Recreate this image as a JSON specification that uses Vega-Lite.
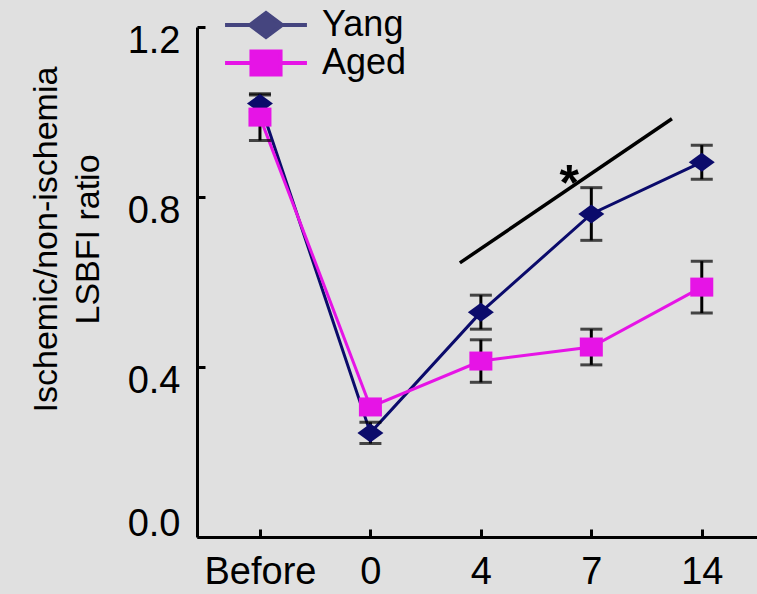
{
  "$schema": "https://vega.github.io/schema/vega-lite/v6.json",
  "autosize": {"type": "none"},
  "padding": {"left": 197, "top": 27, "right": 0, "bottom": 57},
  "width": 560,
  "height": 510,
  "background": "#e0e0e0",
  "config": {"view": {"stroke": null}, "font": "Liberation Sans"},
  "resolve": {"scale": {"fill": "independent", "stroke": "independent", "shape": "independent"}},
  "data": {
    "values": [
      {"series": "Yang", "time": "Before", "idx": 0, "mean": 1.02, "err": 0.02},
      {"series": "Yang", "time": "0", "idx": 1, "mean": 0.245, "err": 0.025},
      {"series": "Yang", "time": "4", "idx": 2, "mean": 0.529, "err": 0.04},
      {"series": "Yang", "time": "7", "idx": 3, "mean": 0.76, "err": 0.062},
      {"series": "Yang", "time": "14", "idx": 4, "mean": 0.882, "err": 0.04},
      {"series": "Aged", "time": "Before", "idx": 0, "mean": 0.988, "err": 0.055},
      {"series": "Aged", "time": "0", "idx": 1, "mean": 0.306, "err": 0.012},
      {"series": "Aged", "time": "4", "idx": 2, "mean": 0.414, "err": 0.05},
      {"series": "Aged", "time": "7", "idx": 3, "mean": 0.447, "err": 0.042},
      {"series": "Aged", "time": "14", "idx": 4, "mean": 0.588, "err": 0.061}
    ]
  },
  "layer": [
    {
      "mark": {"type": "line", "strokeWidth": 3},
      "encoding": {
        "x": {
          "field": "idx", "type": "quantitative", "title": null,
          "scale": {"domain": [-0.57, 4.5], "nice": false, "zero": false},
          "axis": {
            "values": [0, 1, 2, 3, 4],
            "labelExpr": "['Before','0','4','7','14'][datum.value]",
            "title": null, "grid": false,
            "domainColor": "black", "domainWidth": 3,
            "tickColor": "black", "tickWidth": 3, "tickSize": -8,
            "labelPadding": 24, "labelFontSize": 38, "labelColor": "black",
            "labelFont": "Liberation Sans", "labelFlush": false, "labelOverlap": false
          }
        },
        "y": {
          "field": "mean", "type": "quantitative",
          "title": ["Ischemic/non-ischemia", "LSBFI  ratio"],
          "scale": {"domain": [0, 1.2], "nice": false},
          "axis": {
            "values": [0, 0.4, 0.8, 1.2], "format": ".1f", "grid": false,
            "domainColor": "black", "domainWidth": 3,
            "tickColor": "black", "tickWidth": 3, "tickSize": -8,
            "labelPadding": 25, "labelFontSize": 38, "labelColor": "black",
            "labelFont": "Liberation Sans", "labelFlush": false, "labelOverlap": false,
            "labelOffset": {"condition": {"test": "datum.value === 0", "value": -13}, "value": 14},
            "title": ["Ischemic/non-ischemia", "LSBFI  ratio"],
            "titleFont": "Liberation Sans", "titleFontSize": 34, "titleFontWeight": "normal",
            "titleColor": "black", "titleX": -151, "titleY": 212, "titleAlign": "center",
            "titleBaseline": "middle", "titleLineHeight": 42, "titleAngle": -90
          }
        },
        "stroke": {
          "field": "series", "type": "nominal",
          "scale": {"domain": ["Yang", "Aged"], "range": ["#0b0b6b", "#e614e6"]},
          "legend": null
        }
      }
    },
    {
      "mark": {"type": "errorbar", "color": "black", "thickness": 3, "ticks": {"size": 22, "thickness": 3, "color": "black"}},
      "encoding": {
        "x": {"field": "idx", "type": "quantitative", "title": null},
        "y": {"field": "mean", "type": "quantitative", "title": ["Ischemic/non-ischemia", "LSBFI  ratio"], "axis": {"title": ["Ischemic/non-ischemia", "LSBFI  ratio"]}},
        "yError": {"field": "err"},
        "detail": {"field": "series"}
      }
    },
    {
      "mark": {"type": "point", "filled": true, "size": 400, "opacity": 1, "strokeWidth": 0},
      "encoding": {
        "x": {"field": "idx", "type": "quantitative", "title": null},
        "y": {"field": "mean", "type": "quantitative", "title": ["Ischemic/non-ischemia", "LSBFI  ratio"], "axis": {"title": ["Ischemic/non-ischemia", "LSBFI  ratio"]}},
        "fill": {
          "field": "series", "type": "nominal",
          "scale": {"domain": ["Yang", "Aged"], "range": ["#0b0b6b", "#e614e6"]},
          "legend": null
        },
        "shape": {
          "field": "series", "type": "nominal",
          "scale": {"domain": ["Yang", "Aged"], "range": ["M-1.3,0L0,-0.95L1.3,0L0,0.95Z", "M-1.15,-0.95L1.15,-0.95L1.15,0.95L-1.15,0.95Z"]},
          "legend": null
        }
      }
    },
    {
      "data": {"values": []},
      "mark": {"type": "point", "filled": false, "size": 900, "opacity": 1, "strokeWidth": 4},
      "encoding": {
        "x": {"field": "idx", "type": "quantitative", "title": null},
        "y": {"field": "mean", "type": "quantitative", "title": ["Ischemic/non-ischemia", "LSBFI  ratio"], "axis": {"title": ["Ischemic/non-ischemia", "LSBFI  ratio"]}},
        "fill": {
          "field": "series", "type": "nominal",
          "scale": {"domain": ["Yang", "Aged"], "range": ["#45457f", "#e614e6"]},
          "legend": {"orient": "none", "legendX": 51, "legendY": -20, "title": null, "padding": 0,
            "labelFont": "Liberation Sans", "labelFontSize": 36, "labelColor": "black",
            "symbolSize": 900, "symbolStrokeWidth": 4, "labelOffset": 38, "rowPadding": -16}
        },
        "stroke": {
          "field": "series", "type": "nominal",
          "scale": {"domain": ["Yang", "Aged"], "range": ["#45457f", "#e614e6"]},
          "legend": {"orient": "none", "legendX": 51, "legendY": -20, "title": null, "padding": 0,
            "labelFont": "Liberation Sans", "labelFontSize": 36, "labelColor": "black",
            "symbolSize": 900, "symbolStrokeWidth": 4, "labelOffset": 38, "rowPadding": -16}
        },
        "shape": {
          "field": "series", "type": "nominal",
          "scale": {"domain": ["Yang", "Aged"], "range": ["M-2.73,0L2.73,0M-1.07,0L0,-0.8L1.07,0L0,0.8Z", "M-2.73,0L2.73,0M-0.97,-0.77L0.97,-0.77L0.97,0.77L-0.97,0.77Z"]},
          "legend": {"orient": "none", "legendX": 51, "legendY": -20, "title": null, "padding": 0,
            "labelFont": "Liberation Sans", "labelFontSize": 36, "labelColor": "black",
            "symbolSize": 900, "symbolStrokeWidth": 4, "labelOffset": 38, "rowPadding": -16}
        }
      }
    },
    {
      "data": {"values": [{"x": 1.81, "y": 0.645, "x2": 3.73, "y2": 0.984}]},
      "mark": {"type": "rule", "color": "black", "strokeWidth": 3.5},
      "encoding": {
        "x": {"field": "x", "type": "quantitative", "title": null},
        "y": {"field": "y", "type": "quantitative", "title": ["Ischemic/non-ischemia", "LSBFI  ratio"], "axis": {"title": ["Ischemic/non-ischemia", "LSBFI  ratio"]}},
        "x2": {"field": "x2"},
        "y2": {"field": "y2"}
      }
    },
    {
      "data": {"values": [{"x": 2.8, "y": 0.793, "label": "*"}]},
      "mark": {"type": "text", "fontSize": 50, "fontWeight": "bold", "font": "Liberation Sans", "color": "black", "align": "center", "baseline": "alphabetic"},
      "encoding": {
        "x": {"field": "x", "type": "quantitative", "title": null},
        "y": {"field": "y", "type": "quantitative", "title": ["Ischemic/non-ischemia", "LSBFI  ratio"], "axis": {"title": ["Ischemic/non-ischemia", "LSBFI  ratio"]}},
        "text": {"field": "label"}
      }
    }
  ]
}
